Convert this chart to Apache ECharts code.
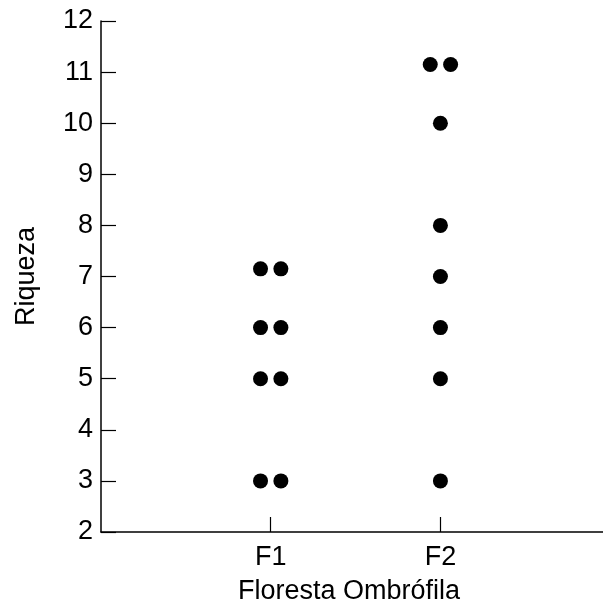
<!DOCTYPE html>
<html>
<head>
<meta charset="utf-8">
<script src="https://cdn.jsdelivr.net/npm/echarts@6/dist/echarts.min.js"></script>
<style>
  html, body { margin: 0; padding: 0; background: #fff; }
  #chart { width: 603px; height: 612px; }
</style>
</head>
<body>
<div id="chart"></div>
<script>
// Site categories along the x axis (placed at 1 and 2 on the x scale)
const categories = ['F1', 'F2'];

// Richness per sample; paired points at the same value sit side by side
const f1Values = [7.15, 7.15, 6, 6, 5, 5, 3, 3];
const f1Offsets = [-0.06, 0.06, -0.06, 0.06, -0.06, 0.06, -0.06, 0.06];
const f2Values = [11.15, 11.15, 10, 8, 7, 6, 5, 3];
const f2Offsets = [-0.06, 0.06, 0, 0, 0, 0, 0, 0];

const yTicks = [2, 3, 4, 5, 6, 7, 8, 9, 10, 11, 12];

const points = [];
f1Values.forEach((v, i) => points.push([1 + f1Offsets[i], v]));
f2Values.forEach((v, i) => points.push([2 + f2Offsets[i], v]));

const font = 'Liberation Sans, Arial, sans-serif';
const fs = 27;

const chart = echarts.init(document.getElementById('chart'), null, { renderer: 'canvas' });
chart.setOption({
  backgroundColor: '#ffffff',
  animation: false,
  grid: { left: 101, top: 21, bottom: 80, right: 0, containLabel: false },
  xAxis: {
    type: 'value',
    min: 0,
    max: 2.958,
    name: 'Floresta Ombrófila',
    nameLocation: 'middle',
    nameGap: 46,
    nameTextStyle: { fontFamily: font, fontSize: fs, color: '#000', padding: [0, 6, 0, 0] },
    axisLine: { show: true, onZero: false, lineStyle: { color: '#000', width: 1.5 } },
    axisTick: {
      show: true, inside: true, length: 15,
      lineStyle: { color: '#000', width: 1.2 },
      customValues: [1, 2]
    },
    axisLabel: {
      fontFamily: font, fontSize: fs, color: '#000', margin: 12,
      customValues: [1, 2],
      formatter: v => categories[Math.round(v) - 1] || ''
    },
    splitLine: { show: false }
  },
  yAxis: {
    type: 'value',
    min: yTicks[0],
    max: yTicks[yTicks.length - 1],
    interval: 1,
    name: 'Riqueza',
    nameLocation: 'middle',
    nameGap: 61,
    nameTextStyle: { fontFamily: font, fontSize: fs, color: '#000' },
    axisLine: { show: true, lineStyle: { color: '#000', width: 1.5 } },
    axisTick: { show: true, inside: true, length: 15, lineStyle: { color: '#000', width: 1.2 } },
    axisLabel: { fontFamily: font, fontSize: fs, color: '#000', margin: 8 },
    splitLine: { show: false }
  },
  series: [{
    type: 'scatter',
    data: points,
    symbol: 'circle',
    symbolSize: 15,
    itemStyle: { color: '#000', opacity: 1 }
  }]
});
</script>
</body>
</html>
